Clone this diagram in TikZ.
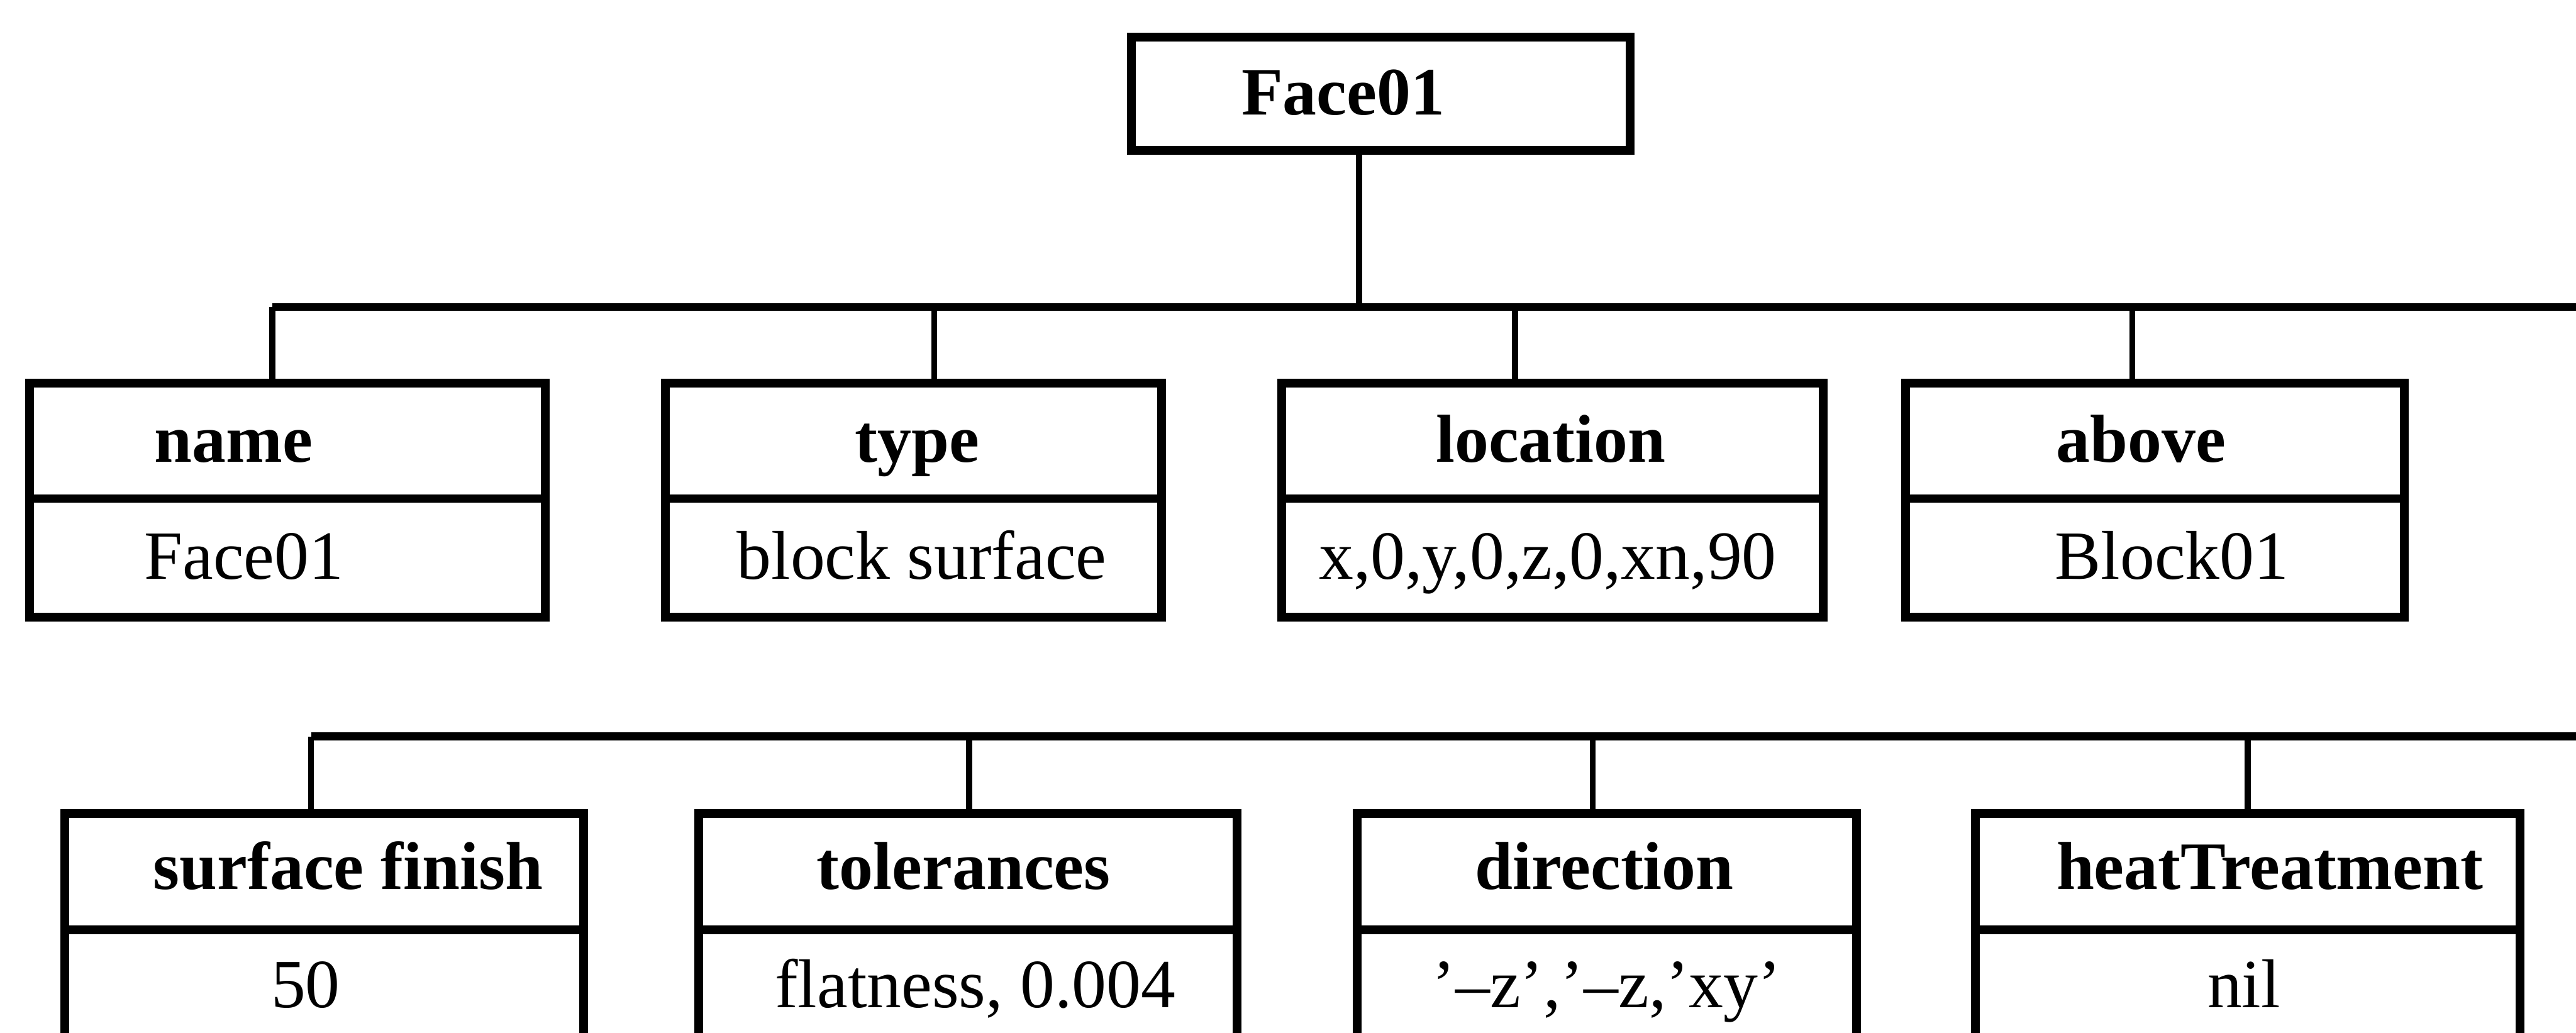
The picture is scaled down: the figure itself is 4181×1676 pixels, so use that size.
\documentclass[tikz,border=0pt]{standalone}
\usepackage{fontspec}
\setmainfont{Liberation Serif}
\begin{document}
\begin{tikzpicture}[x=0.25pt,y=-0.25pt,
  cell/.style={draw, line width=3.5pt, rectangle, inner sep=0pt, outer sep=0pt},
  hd/.style={font=\fontsize{27.5}{33}\selectfont\bfseries, anchor=base, inner sep=0pt},
  val/.style={font=\fontsize{28}{33}\selectfont, anchor=base, inner sep=0pt},
  conn/.style={line width=2.4pt},
  bus/.style={line width=3.2pt}]
\useasboundingbox (0,0) rectangle (4181,1676);
\clip (0,0) rectangle (4181,1676);

% root
\node[cell, minimum width=202.5pt, minimum height=46pt] (face) at (2241,152) {};
\node[hd] (faceT) at (2180,186) {Face01};

% top row boxes
\node[cell, minimum width=209.25pt, minimum height=46.75pt] (nameH) at (466.5,715.5) {};
\node[cell, minimum width=209.25pt, minimum height=48pt] (nameV) at (466.5,905) {};
\node[hd] (nameT) at (379,750) {name};
\node[val] (nameX) at (396,940) {Face01};

\node[cell, minimum width=201.25pt, minimum height=46.75pt] (typeH) at (1482.5,715.5) {};
\node[cell, minimum width=201.25pt, minimum height=48pt] (typeV) at (1482.5,905) {};
\node[hd] (typeT) at (1489,750) {type};
\node[val] (typeX) at (1496,940) {block surface};

\node[cell, minimum width=219.75pt, minimum height=46.75pt] (locH) at (2519.5,715.5) {};
\node[cell, minimum width=219.75pt, minimum height=48pt] (locV) at (2519.5,905) {};
\node[hd] (locT) at (2517,750) {location};
\node[val] (locX) at (2512,940) {x,0,y,0,z,0,xn,90};

\node[cell, minimum width=202.25pt, minimum height=46.75pt] (abvH) at (3497.5,715.5) {};
\node[cell, minimum width=202.25pt, minimum height=48pt] (abvV) at (3497.5,905) {};
\node[hd] (abvT) at (3475,750) {above};
\node[val] (abvX) at (3525,940) {Block01};

% bottom row boxes
\node[cell, minimum width=210.5pt, minimum height=47.25pt] (sfH) at (526,1414.5) {};
\node[cell, minimum width=210.5pt, minimum height=62.75pt] (sfV) at (526,1634.5) {};
\node[hd] (sfT) at (565,1443) {surface finish};
\node[val] (sfX) at (496,1635) {50};

\node[cell, minimum width=218.5pt, minimum height=47.25pt] (tolH) at (1571,1414.5) {};
\node[cell, minimum width=218.5pt, minimum height=62.75pt] (tolV) at (1571,1634.5) {};
\node[hd] (tolT) at (1564,1443) {tolerances};
\node[val] (tolX) at (1583,1635) {flatness, 0.004};

\node[cell, minimum width=202.5pt, minimum height=47.25pt] (dirH) at (2608,1414.5) {};
\node[cell, minimum width=202.5pt, minimum height=62.75pt] (dirV) at (2608,1634.5) {};
\node[hd] (dirT) at (2604,1443) {direction};
\node[val] (dirX) at (2608,1635) {’–z’,’–z,’xy’};

\node[cell, minimum width=221pt, minimum height=47.25pt] (heatH) at (3648,1414.5) {};
\node[cell, minimum width=221pt, minimum height=62.75pt] (heatV) at (3648,1634.5) {};
\node[hd] (heatT) at (3684,1443) {heatTreatment};
\node[val] (heatX) at (3642,1635) {nil};

% top bus
\coordinate (top) at (2206,498);
\coordinate (topEnd) at (4200,498);
\coordinate (a1) at (442,498);
\coordinate (a2) at (1516,498);
\coordinate (a3) at (2459,498);
\coordinate (a4) at (3461,498);
\draw[conn] (face.south -| top) -- (top);
\draw[bus] (a1) -- (topEnd);
\draw[conn] (a1) -- (a1 |- nameH.north);
\draw[conn] (a2) -- (a2 |- typeH.north);
\draw[conn] (a3) -- (a3 |- locH.north);
\draw[conn] (a4) -- (a4 |- abvH.north);

% bottom bus
\coordinate (botEnd) at (4200,1195);
\coordinate (b1) at (505,1195);
\coordinate (b2) at (1573,1195);
\coordinate (b3) at (2585,1195);
\coordinate (b4) at (3648,1195);
\draw[bus] (b1) -- (botEnd);
\draw[conn] (b1) -- (b1 |- sfH.north);
\draw[conn] (b2) -- (b2 |- tolH.north);
\draw[conn] (b3) -- (b3 |- dirH.north);
\draw[conn] (b4) -- (b4 |- heatH.north);
\end{tikzpicture}
\end{document}
